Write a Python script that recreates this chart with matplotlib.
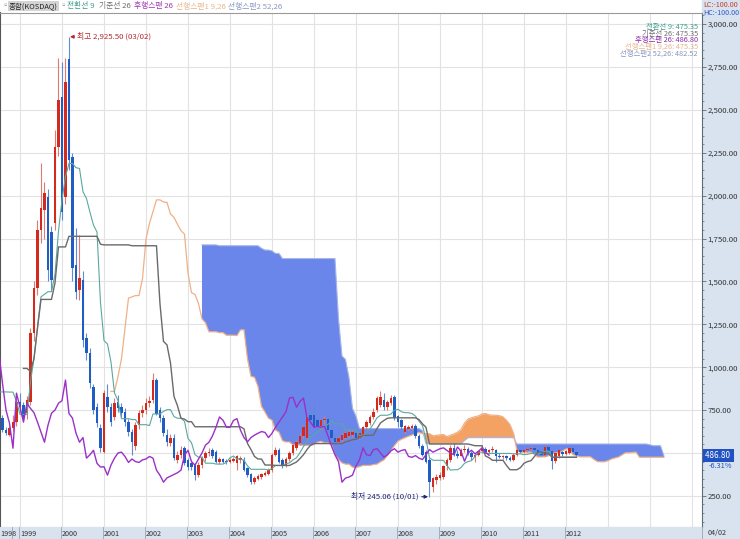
import numpy as np
import pandas as pd
import matplotlib
matplotlib.use('Agg')
import matplotlib.pyplot as plt
from matplotlib.patches import Rectangle
from matplotlib.ticker import MultipleLocator, FixedLocator

plt.rcParams['font.family'] = ['Noto Sans CJK KR', 'DejaVu Sans']

# KOSDAQ monthly candles, 1997-01 .. 2012-04 (index 0 = 1997-01, first months are left of the view)
opens = [
    1100, 1200, 1300, 1250, 1200, 1150, 1100, 1050, 1000, 950, 900, 850,      # 1997
    760, 950, 1000, 980, 820, 720, 650, 705, 633, 604, 645, 680,              # 1998
    797, 779, 735, 797, 1199, 1461, 1799, 1916, 1991, 1787, 1840, 2283,       # 1999
    2574, 1991, 2796, 2225, 1595, 1449, 1508, 1170, 1082, 884, 767, 645,      # 2000
    505, 825, 767, 709, 800, 770, 740, 680, 622, 540, 662, 732,               # 2001
    750, 790, 808, 925, 750, 703, 604, 560, 590, 460, 487, 530,               # 2002
    458, 440, 430, 371, 429, 470, 500, 516, 505, 445, 465, 455,               # 2003
    445, 455, 440, 460, 460, 410, 375, 330, 350, 360, 372, 380,               # 2004
    400, 487, 516, 458, 430, 465, 500, 530, 560, 598, 590, 720,               # 2005
    720, 690, 660, 690, 700, 633, 590, 565, 575, 590, 600, 605,               # 2006
    615, 590, 604, 650, 675, 710, 750, 780, 808, 770, 790, 825,               # 2007
    715, 690, 620, 640, 645, 660, 600, 540, 505, 458, 300, 341,               # 2008
    354, 360, 425, 460, 530, 495, 485, 520, 525, 500, 475, 490,               # 2009
    513, 525, 505, 515, 520, 480, 475, 485, 470, 462, 490, 520,               # 2010
    505, 515, 525, 530, 515, 500, 490, 535, 510, 452, 480, 505,               # 2011
    495, 500, 532, 505,                                                       # 2012
]
highs = [
    1250, 1386, 1350, 1300, 1280, 1200, 1150, 1100, 1050, 1000, 950, 900,
    1000, 1050, 1110, 1000, 850, 740, 720, 720, 650, 660, 720, 820,
    850, 800, 830, 1230, 1500, 1857, 2190, 2079, 2040, 1820, 2382, 2802,
    2780, 2802, 2925.5, 2248, 1811, 1770, 1560, 1200, 1110, 900, 790, 670,
    870, 900, 790, 820, 840, 790, 760, 700, 640, 680, 750, 780,
    820, 830, 965, 940, 770, 720, 640, 610, 610, 510, 540, 540,
    470, 450, 440, 445, 480, 510, 530, 530, 520, 475, 470, 465,
    470, 475, 490, 480, 475, 420, 385, 365, 375, 385, 395, 410,
    500, 535, 530, 470, 475, 510, 555, 575, 615, 660, 720, 770,
    790, 710, 700, 715, 720, 650, 610, 600, 615, 630, 640, 635,
    630, 625, 660, 690, 720, 760, 830, 860, 850, 810, 840, 840,
    719.98, 700, 665, 665, 670, 670, 610, 555, 515, 470, 360, 375,
    390, 430, 470, 545, 560, 520, 530, 545, 535, 510, 500, 520,
    545, 535, 525, 540, 525, 500, 490, 490, 480, 500, 530, 530,
    525, 530, 540, 540, 525, 510, 540, 545, 520, 505, 520, 512,
    515, 532, 538, 512,
]
lows = [
    1050, 1150, 1200, 1150, 1100, 1050, 1000, 950, 900, 850, 800, 700,
    740, 900, 950, 800, 700, 620, 602, 620, 605, 600, 630, 660,
    740, 690, 700, 780, 1150, 1420, 1723, 1750, 1500, 1449, 1800, 2230,
    1860, 1950, 2150, 1500, 1400, 1391, 1120, 1040, 880, 730, 650, 508,
    500, 740, 660, 690, 740, 710, 660, 600, 490, 520, 640, 710,
    730, 770, 790, 720, 680, 600, 540, 540, 460, 440, 470, 430,
    400, 400, 341, 360, 415, 455, 480, 470, 440, 435, 440, 435,
    440, 445, 400, 440, 395, 360, 320, 320, 340, 350, 365, 370,
    390, 480, 440, 415, 420, 455, 490, 520, 545, 585, 580, 670,
    640, 630, 640, 670, 620, 580, 550, 550, 560, 580, 590, 595,
    580, 580, 595, 640, 665, 700, 740, 770, 750, 750, 780, 690,
    650, 620, 610, 630, 635, 590, 530, 480, 440, 245.06, 270, 320,
    340, 350, 400, 450, 480, 470, 480, 505, 490, 460, 450, 485,
    500, 500, 495, 505, 450, 470, 465, 460, 455, 455, 485, 500,
    500, 505, 510, 510, 495, 480, 485, 500, 405.7, 440, 470, 485,
    490, 495, 505, 480,
]
closes = [
    1200, 1300, 1250, 1200, 1150, 1100, 1050, 1000, 950, 900, 850, 760,
    950, 1000, 980, 820, 720, 650, 705, 633, 616, 645, 680, 797,
    770, 703, 808, 1199, 1461, 1799, 1927, 2015, 1566, 1508, 2283, 2557,
    1904, 2662, 2207, 1577, 1437, 1519, 1158, 1082, 907, 750, 674, 528,
    849, 767, 680, 790, 760, 735, 680, 622, 563, 662, 732, 750,
    790, 805, 925, 730, 703, 616, 563, 590, 470, 490, 516, 440,
    418, 420, 371, 430, 470, 500, 505, 480, 445, 465, 450, 445,
    460, 465, 480, 470, 400, 370, 330, 355, 365, 375, 385, 400,
    487, 516, 450, 429, 465, 500, 546, 563, 600, 650, 710, 691,
    650, 650, 690, 700, 633, 590, 565, 590, 604, 615, 625, 620,
    590, 615, 650, 680, 710, 740, 820, 825, 767, 800, 820, 705,
    680, 650, 655, 650, 655, 600, 540, 490, 450, 330, 354, 360,
    371, 425, 460, 530, 490, 485, 520, 525, 500, 475, 490, 513,
    525, 505, 515, 520, 480, 475, 485, 470, 462, 490, 520, 505,
    515, 525, 530, 515, 500, 490, 535, 510, 452, 500, 516, 495,
    510, 530, 505, 486.8,
]

year_labels = ['1999', '2000', '2001', '2002', '2003', '2004', '2005', '2006',
               '2007', '2008', '2009', '2010', '2011', '2012']
price_ticks = [250, 500, 750, 1000, 1250, 1500, 1750, 2000, 2250, 2500, 2750, 3000]

df = pd.DataFrame({'o': opens, 'h': highs, 'l': lows, 'c': closes})
n = len(df)
idx = np.arange(n)
shift = 25

tenkan = (df.h.rolling(9).max() + df.l.rolling(9).min()) / 2
kijun = (df.h.rolling(26).max() + df.l.rolling(26).min()) / 2
span1 = (tenkan + kijun) / 2
span2 = (df.h.rolling(52).max() + df.l.rolling(52).min()) / 2

fig = plt.figure(figsize=(7.4, 5.39), dpi=100)
W, H = 740, 539
# light blue side panel and bottom strip (behind everything)
fig.patches.append(Rectangle((702 / W, 0), 38 / W, 1, transform=fig.transFigure,
                             color='#d9e3ef', zorder=-10))
fig.patches.append(Rectangle((0, 0), 1, 12 / H, transform=fig.transFigure,
                             color='#d9e3ef', zorder=-10))

ax = fig.add_axes([0, 12 / H, 702 / W, 514 / H])
ax.set_xlim(18.29, 218.86)
ax.set_ylim(68.8, 3064.1)

# grid
for yv in price_ticks:
    ax.axhline(yv, color='#e2e2e2', lw=0.8, zorder=0)
for k in range(2, 19):
    ax.axvline(12 * k, color='#e2e2e2', lw=0.8, zorder=0)

# cloud
xs = idx + shift
s1, s2 = span1.values, span2.values
ax.fill_between(xs, s1, s2, where=s2 >= s1, interpolate=True, color='#6a86ea',
                lw=0, zorder=1)
ax.fill_between(xs, s1, s2, where=s1 > s2, interpolate=True, color='#f3a263',
                lw=0, zorder=1)
ax.plot(xs, s2, color='#a7b4e6', lw=0.8, zorder=1.5)
ax.plot(xs, s1, color='#efb088', lw=0.9, zorder=1.5)

# candles
up = df.c >= df.o
col = np.where(up, '#d42a1e', '#1f5cc4')
wick = np.where(up, '#e07a70', '#5f8ad4')
ax.vlines(idx, df.l, df.h, colors=wick, lw=0.8, zorder=2)
body = (df.c - df.o).abs().clip(lower=6)
ax.bar(idx, body, bottom=np.minimum(df.o, df.c), width=0.75, color=col,
       lw=0, zorder=2.2)

# lines
ax.plot(idx, tenkan, color='#5aa89e', lw=0.8, zorder=3)
ax.plot(idx, kijun, color='#6a6a6a', lw=1.0, zorder=3)
ax.plot(idx - shift, df.c, color='#9b30c8', lw=1.0, zorder=3)

# high / low marks
peak = int(np.argmax(highs))
low = int(np.argmin(lows))
ax.annotate('최고 2,925.50 (03/02)', xy=(peak + 0.3, highs[peak]), xytext=(peak + 2.3, highs[peak]),
            fontsize=5.6, color='#b3282d', va='center', ha='left',
            arrowprops=dict(arrowstyle='-|>', color='#b3282d', lw=0.8,
                            mutation_scale=5, shrinkA=0, shrinkB=0))
ax.annotate('최저 245.06 (10/01)', xy=(low - 0.4, lows[low]), xytext=(low - 3.0, lows[low]),
            fontsize=5.6, color='#23237a', va='center', ha='right',
            arrowprops=dict(arrowstyle='-|>', color='#23237a', lw=0.8,
                            mutation_scale=5, shrinkA=0, shrinkB=0))

# axes styling
for s in ['top', 'bottom']:
    ax.spines[s].set_color('#9a9a9a')
ax.spines['left'].set_color('#555555')
ax.spines['left'].set_linewidth(1.5)
ax.spines['right'].set_color('#5d6b7a')
ax.yaxis.tick_right()
ax.yaxis.set_major_locator(FixedLocator(price_ticks))
ax.yaxis.set_minor_locator(MultipleLocator(50))
ax.set_yticklabels(['' if v == 500 else f'{v:,.2f}' for v in price_ticks])
ax.tick_params(axis='y', which='major', length=3, width=0.6, color='#5d6b7a',
               labelsize=5.6, labelcolor='#333333', pad=1)
ax.tick_params(axis='y', which='minor', length=1.5, width=0.5, color='#5d6b7a')
ax.set_xticks([])

# bottom time axis strip
axb = fig.add_axes([0, 0, 702 / W, 12 / H], sharex=ax)
axb.set_facecolor('#d9e3ef')
axb.set_ylim(0, 1)
axb.set_yticks([])
axb.tick_params(axis='x', length=0, labelbottom=False)
for s in axb.spines.values():
    s.set_visible(False)
axb.axvline(21.7, color='#9aa6b4', lw=0.6)
axb.text(18.4, 0.45, '1998', fontsize=5.2, color='#333333', va='center', ha='left')
for i, lab in enumerate(year_labels):
    pos = 24 + 12 * i
    axb.axvline(pos - 0.35, color='#9aa6b4', lw=0.6)
    axb.text(pos, 0.45, lab, fontsize=5.2, color='#333333', va='center', ha='left')
fig.text(708 / W, 6 / H, '04/02', fontsize=5.2, color='#333333', va='center', ha='left')
fig.lines.append(plt.Line2D([702 / W, 702 / W], [0, 12 / H], transform=fig.transFigure,
                            color='#9aa6b4', lw=0.6))

# current price tag
last = closes[-1]
ax.annotate(f'{last:.2f} ', xy=(1.0, last), xycoords=('axes fraction', 'data'),
            xytext=(2.5, 0), textcoords='offset points', fontsize=5.8, color='white',
            va='center', ha='left', annotation_clip=False,
            bbox=dict(boxstyle='square,pad=0.25', fc='#2152c4', ec='none'))
ax.annotate('-6.31%', xy=(1.0, last), xycoords=('axes fraction', 'data'),
            xytext=(5, -7.5), textcoords='offset points', fontsize=5.3, color='#2152c4',
            va='center', ha='left', annotation_clip=False)


def ftxt(px, py, s, c, **kw):
    fig.text(px / W, 1 - py / H, s, color=c, va='center', **kw)


# top legend
ftxt(1, 6, '▫', '#888888', fontsize=5.5)
ftxt(9, 6, '종합(KOSDAQ)', '#222222', fontsize=5.4,
     bbox=dict(boxstyle='square,pad=0.1', fc='#d4d4d4', ec='none'))
ftxt(59, 6, '▫', '#888888', fontsize=5.5)
ftxt(67, 6, '전환선 9', '#3a9c8c', fontsize=5.6)
ftxt(99, 6, '기준선 26', '#707070', fontsize=5.6)
ftxt(134, 6, '후행스팬 26', '#a032b4', fontsize=5.6)
ftxt(176, 6, '선행스팬1 9,26', '#eab48c', fontsize=5.6)
ftxt(228, 6, '선행스팬2 52,26', '#8797c2', fontsize=5.6)

ftxt(703, 5, 'LC:-100.00', '#c0392b', fontsize=5.1)
ftxt(703, 13, 'HC:-100.00', '#2c56c8', fontsize=5.1)

vals = [
    (f'전환선 9: {tenkan.iloc[-1]:.2f}', '#3a9c8c'),
    (f'기준선 26: {kijun.iloc[-1]:.2f}', '#707070'),
    (f'후행스팬 26: {last:.2f}', '#8a2aa8'),
    (f'선행스팬1 9,26: {span1.iloc[-1]:.2f}', '#eab48c'),
    (f'선행스팬2 52,26: {span2.iloc[-1]:.2f}', '#8797c2'),
]
for i, (s, c) in enumerate(vals):
    ftxt(698, 27 + 6.6 * i, s, c, fontsize=5.3, ha='right')

fig.savefig('out.png', dpi=100)
